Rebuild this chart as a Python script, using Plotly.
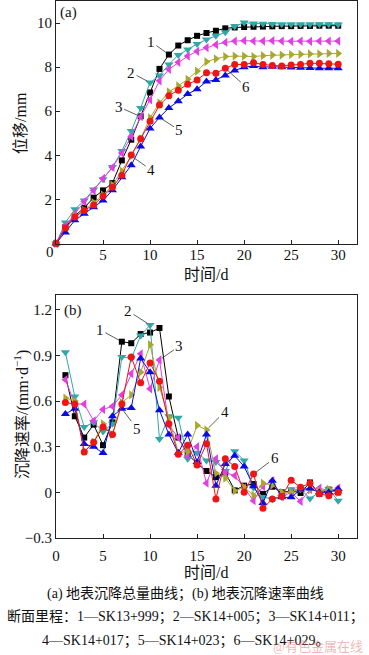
import plotly.graph_objects as go

days_a = list(range(0, 31))
days_b = list(range(1, 31))

disp_1 = [0, 0.75, 1.25, 1.62, 2.08, 2.41, 2.74, 3.77, 4.71, 5.77, 6.85, 7.92, 8.57, 8.98, 9.22, 9.42, 9.55, 9.65, 9.76, 9.8, 9.82, 9.83, 9.84, 9.85, 9.86, 9.86, 9.87, 9.87, 9.88, 9.88, 9.88]
disp_2 = [0, 0.95, 1.55, 1.95, 2.45, 2.92, 3.47, 4.2, 5.1, 6.15, 7.3, 7.62, 8.12, 8.55, 8.8, 9.05, 9.25, 9.42, 9.58, 9.85, 10.02, 9.98, 9.97, 9.96, 9.95, 9.95, 9.95, 9.95, 9.95, 9.94, 9.93]
disp_3 = [0, 0.8, 1.35, 1.9, 2.4, 2.95, 3.45, 4.1, 4.85, 5.75, 6.52, 7.38, 7.9, 8.22, 8.5, 8.72, 8.88, 9.02, 9.12, 9.18, 9.2, 9.18, 9.18, 9.2, 9.18, 9.17, 9.18, 9.17, 9.18, 9.18, 9.18]
disp_4 = [0, 0.65, 1.25, 1.5, 1.85, 2.2, 2.65, 3.28, 3.97, 4.75, 5.7, 6.38, 6.88, 7.15, 7.45, 7.82, 8.25, 8.38, 8.48, 8.5, 8.5, 8.48, 8.52, 8.55, 8.55, 8.57, 8.58, 8.6, 8.6, 8.62, 8.62]
disp_5 = [0, 0.5, 1.05, 1.35, 1.65, 1.95, 2.42, 3.0, 3.55, 4.4, 5.22, 5.72, 6.15, 6.45, 6.78, 7.0, 7.35, 7.42, 7.62, 7.85, 8.0, 8.05, 8.0, 8.02, 8.0, 7.98, 7.97, 7.96, 7.95, 7.95, 7.95]
disp_6 = [0, 0.7, 1.2, 1.5, 1.75, 2.15, 2.55, 3.1, 4.02, 4.75, 5.55, 6.28, 6.7, 6.95, 7.22, 7.42, 7.75, 7.72, 7.95, 8.12, 8.12, 8.2, 8.12, 8.08, 8.05, 8.1, 8.12, 8.18, 8.18, 8.15, 8.13]

rate_1 = [0.77, 0.50, 0.36, 0.445, 0.31, 0.46, 0.99, 0.98, 1.04, 1.05, 1.08, 0.63, 0.36, 0.25, 0.19, 0.14, 0.10, 0.13, 0.013, 0.044, 0.055, -0.01, 0.037, 0.0, 0.01, -0.004, 0.065, -0.01, 0.018, 0.0]
rate_2 = [0.92, 0.63, 0.43, 0.46, 0.40, 0.45, 0.89, 0.88, 1.03, 1.10, 0.35, 0.50, 0.49, 0.22, 0.26, 0.21, 0.20, 0.14, 0.27, 0.21, 0.03, -0.03, -0.045, -0.03, 0.02, 0.02, -0.04, 0.0, 0.02, -0.055]
rate_3 = [0.74, 0.58, 0.58, 0.47, 0.545, 0.565, 0.64, 0.78, 0.91, 0.68, 0.87, 0.44, 0.36, 0.24, 0.30, 0.06, 0.22, 0.13, 0.11, 0.03, -0.055, 0.04, 0.077, -0.03, 0.0, -0.06, 0.02, 0.028, 0.01, 0.028]
rate_4 = [0.62, 0.60, 0.27, 0.33, 0.45, 0.38, 0.59, 0.64, 0.79, 0.97, 0.69, 0.49, 0.26, 0.27, 0.44, 0.41, 0.125, 0.094, 0.01, 0.033, -0.02, 0.06, 0.048, 0.0, 0.0, 0.026, 0.017, 0.01, 0.02, 0.0]
rate_5 = [0.515, 0.55, 0.317, 0.30, 0.258, 0.50, 0.55, 0.555, 0.88, 0.79, 0.54, 0.38, 0.26, 0.38, 0.20, 0.38, 0.044, 0.186, 0.24, 0.17, 0.04, -0.07, 0.077, -0.033, -0.033, 0.018, 0.026, 0.0, 0.0, 0.022]
rate_6 = [0.59, 0.58, 0.265, 0.33, 0.43, 0.38, 0.58, 0.89, 0.72, 0.85, 0.73, 0.45, 0.25, 0.31, 0.18, 0.32, -0.044, 0.22, 0.17, 0.0, 0.12, -0.105, -0.044, -0.026, 0.08, 0.033, 0.06, -0.01, -0.022, 0.0]

series_labels = ["1", "2", "3", "4", "5", "6"]
colors = ["#000000", "#2FA8A8", "#E23FE2", "#A8A830", "#0A0AE6", "#EE1515"]
symbols = ["square", "triangle-down", "triangle-left", "triangle-right", "triangle-up", "circle"]
sizes = [6, 8, 8, 8, 8, 7]

disp = [disp_1, disp_2, disp_3, disp_4, disp_5, disp_6]
rate = [rate_1, rate_2, rate_3, rate_4, rate_5, rate_6]

SERIF = "Liberation Serif, Times New Roman, Noto Sans CJK SC, serif"
CJK = "Liberation Serif, Noto Sans CJK SC, serif"

fig = go.Figure()
for i in range(6):
    fig.add_trace(go.Scatter(x=days_a, y=disp[i], mode="lines+markers",
                             line=dict(color=colors[i], width=1),
                             marker=dict(symbol=symbols[i], size=sizes[i], color=colors[i]),
                             xaxis="x", yaxis="y", showlegend=False, cliponaxis=False))
for i in range(6):
    fig.add_trace(go.Scatter(x=days_b, y=rate[i], mode="lines+markers",
                             line=dict(color=colors[i], width=1),
                             marker=dict(symbol=symbols[i], size=sizes[i], color=colors[i]),
                             xaxis="x2", yaxis="y2", showlegend=False, cliponaxis=False))

axis_common = dict(showline=True, linecolor="#222", linewidth=1, mirror=True,
                   ticks="inside", ticklen=4, tickcolor="#222", showgrid=False,
                   zeroline=False, automargin=False,
                   tickfont=dict(family=SERIF, size=15, color="#111"))

fig.update_layout(
    width=369, height=655,
    margin=dict(l=56, r=12, t=1, b=117),
    paper_bgcolor="white", plot_bgcolor="white",
    xaxis=dict(domain=[0, 1], range=[0, 32], anchor="y",
               tickvals=[5, 10, 15, 20, 25, 30], ticklabelstandoff=-3, **axis_common),
    yaxis=dict(domain=[0.5484, 1], range=[0, 11], anchor="x",
               tickvals=[2, 4, 6, 8, 10], **axis_common),
    xaxis2=dict(domain=[0, 1], range=[0, 32], anchor="y2",
                tickvals=[0, 5, 10, 15, 20, 25, 30], ticklabelstandoff=4, **axis_common),
    yaxis2=dict(domain=[0, 0.4534], range=[-0.3, 1.3], anchor="x2",
                tickvals=[-0.3, 0, 0.3, 0.6, 0.9, 1.2],
                ticktext=["\u22120.3", "0", "0.3", "0.6", "0.9", "1.2"], **axis_common),
)

ann = []
lab_font = dict(family=SERIF, size=15, color="#111")
lead_a = [(12, disp_1[12], -18, -13), (10, disp_2[10], -19, -10), (9, disp_3[9], -22, -10),
          (8, disp_4[8], 20, 14), (11, disp_5[11], 20, 13), (18, disp_6[18], 21, 19)]
for lab, (xx, yy, ax, ay) in zip(series_labels, lead_a):
    ann.append(dict(x=xx, y=yy, xref="x", yref="y", text=lab, showarrow=True, arrowhead=0,
                    arrowwidth=0.8, arrowcolor="#333", ax=ax, ay=ay, font=lab_font, standoff=3))
lead_b = [(7, rate_1[6], -22, -12), (10, rate_2[9], -22, -14), (11, rate_3[10], 20, -14),
          (16, rate_4[15], 18, -18), (7, rate_5[6], 15, 20), (21, rate_6[20], 21, -16)]
for lab, (xx, yy, ax, ay) in zip(series_labels, lead_b):
    ann.append(dict(x=xx, y=yy, xref="x2", yref="y2", text=lab, showarrow=True, arrowhead=0,
                    arrowwidth=0.8, arrowcolor="#333", ax=ax, ay=ay, font=lab_font, standoff=3))

def px2paper(xp, yp):
    return (xp - 56) / 301.0, (538 - yp) / 537.0

def add_text(xp, yp, text, size=15, angle=0, family=CJK, color="#111", xanchor="center"):
    px, py = px2paper(xp, yp)
    ann.append(dict(x=px, y=py, xref="paper", yref="paper", text=text, showarrow=False,
                    textangle=angle, xanchor=xanchor, yanchor="middle",
                    font=dict(family=family, size=size, color=color)))

add_text(68, 13, "(a)", size=15, family=SERIF)
add_text(73, 310, "(b)", size=15, family=SERIF)
add_text(50, 252, "0", size=15, family=SERIF)
add_text(21, 123, "位移/mm", size=16, angle=-90)
add_text(206, 274, "时间/d", size=16)
add_text(21, 415, "沉降速率/(mm·d<sup>−1</sup>)", size=16, angle=-90)
add_text(206, 572, "时间/d", size=16)
add_text(185, 593, "(a) 地表沉降总量曲线；(b) 地表沉降速率曲线", size=14)
add_text(185, 617, "断面里程：1—SK13+999；2—SK14+005；3—SK14+011；", size=14)
add_text(185, 641, "4—SK14+017；5—SK14+023；6—SK14+029。", size=14)
add_text(318, 646, "@有色金属在线", size=13, color="rgba(225,90,90,0.45)")

fig.update_layout(annotations=ann)
fig.write_html("out.html", config={"displayModeBar": False},
               post_script="document.body.style.margin='0';document.body.style.padding='0';")
